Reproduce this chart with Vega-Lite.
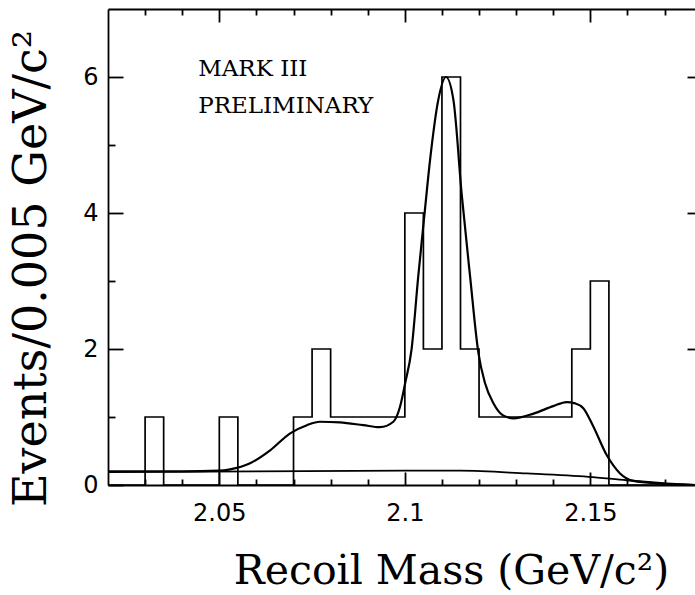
{
  "$schema": "https://vega.github.io/schema/vega-lite/v6.json",
  "width": 587,
  "height": 476,
  "autosize": {"type": "none"},
  "padding": {"left": 108, "top": 9, "right": 0, "bottom": 110},
  "background": "white",
  "config": {
    "view": {"stroke": null},
    "axis": {"grid": false, "domainColor": "#000", "tickColor": "#000", "domainWidth": 1.8, "tickWidth": 1.8, "labelColor": "#000", "titleColor": "#000", "labelOverlap": false}
  },
  "datasets": {
    "hist": [
      {"mass": 2.020, "count": 0}, {"mass": 2.025, "count": 0}, {"mass": 2.030, "count": 1}, {"mass": 2.035, "count": 0},
      {"mass": 2.040, "count": 0}, {"mass": 2.045, "count": 0}, {"mass": 2.050, "count": 1}, {"mass": 2.055, "count": 0},
      {"mass": 2.060, "count": 0}, {"mass": 2.065, "count": 0}, {"mass": 2.070, "count": 1}, {"mass": 2.075, "count": 2},
      {"mass": 2.080, "count": 1}, {"mass": 2.085, "count": 1}, {"mass": 2.090, "count": 1}, {"mass": 2.095, "count": 1},
      {"mass": 2.100, "count": 4}, {"mass": 2.105, "count": 2}, {"mass": 2.110, "count": 6}, {"mass": 2.115, "count": 2},
      {"mass": 2.120, "count": 1}, {"mass": 2.125, "count": 1}, {"mass": 2.130, "count": 1}, {"mass": 2.135, "count": 1},
      {"mass": 2.140, "count": 1}, {"mass": 2.145, "count": 2}, {"mass": 2.150, "count": 3}, {"mass": 2.155, "count": 0},
      {"mass": 2.160, "count": 0}, {"mass": 2.165, "count": 0}, {"mass": 2.170, "count": 0}, {"mass": 2.175, "count": 0}
    ],
    "fit": [
      {"mass": 2.020, "value": 0.20}, {"mass": 2.040, "value": 0.20}, {"mass": 2.050, "value": 0.21},
      {"mass": 2.0529, "value": 0.23}, {"mass": 2.0583, "value": 0.32}, {"mass": 2.0637, "value": 0.51},
      {"mass": 2.0691, "value": 0.76}, {"mass": 2.0736, "value": 0.88}, {"mass": 2.0771, "value": 0.93},
      {"mass": 2.0825, "value": 0.92}, {"mass": 2.0888, "value": 0.88}, {"mass": 2.0933, "value": 0.85},
      {"mass": 2.0969, "value": 0.93}, {"mass": 2.0987, "value": 1.15}, {"mass": 2.1001, "value": 1.50},
      {"mass": 2.1018, "value": 1.99}, {"mass": 2.1036, "value": 3.06}, {"mass": 2.1054, "value": 4.04},
      {"mass": 2.1068, "value": 4.78}, {"mass": 2.1090, "value": 5.66}, {"mass": 2.1111, "value": 6.0},
      {"mass": 2.1131, "value": 5.66}, {"mass": 2.1153, "value": 4.29}, {"mass": 2.1176, "value": 3.06},
      {"mass": 2.1198, "value": 1.95}, {"mass": 2.1216, "value": 1.50}, {"mass": 2.1239, "value": 1.20},
      {"mass": 2.1266, "value": 1.02}, {"mass": 2.1293, "value": 0.98}, {"mass": 2.1347, "value": 1.05},
      {"mass": 2.1400, "value": 1.16}, {"mass": 2.1436, "value": 1.22}, {"mass": 2.1459, "value": 1.20},
      {"mass": 2.1481, "value": 1.13}, {"mass": 2.1508, "value": 0.86}, {"mass": 2.1544, "value": 0.44},
      {"mass": 2.1580, "value": 0.17}, {"mass": 2.1616, "value": 0.06}, {"mass": 2.1688, "value": 0.02},
      {"mass": 2.1782, "value": 0.0}
    ],
    "background": [
      {"mass": 2.020, "value": 0.19}, {"mass": 2.060, "value": 0.2}, {"mass": 2.100, "value": 0.21},
      {"mass": 2.1149, "value": 0.21}, {"mass": 2.1329, "value": 0.17}, {"mass": 2.1495, "value": 0.12},
      {"mass": 2.1598, "value": 0.07}, {"mass": 2.1706, "value": 0.025}, {"mass": 2.1782, "value": 0.0}
    ],
    "notes": [
      {"mass": 2.0443, "value": 6.12, "label": "MARK III"},
      {"mass": 2.0443, "value": 5.57, "label": "PRELIMINARY"}
    ]
  },
  "layer": [
    {
      "data": {"name": "hist"},
      "mark": {"type": "line", "interpolate": "step-after", "color": "#000", "strokeWidth": 1.7},
      "encoding": {
        "x": {
          "field": "mass", "type": "quantitative",
          "scale": {"domain": [2.02, 2.1782], "nice": false, "zero": false},
          "axis": {
            "orient": "bottom",
            "values": [2.03, 2.04, 2.05, 2.06, 2.07, 2.08, 2.09, 2.1, 2.11, 2.12, 2.13, 2.14, 2.15, 2.16, 2.17],
            "format": "~g",
            "labelExpr": "indexof([2.05, 2.1, 2.15], datum.value) >= 0 ? datum.label : ''",
            "tickSize": {"condition": {"test": "indexof([2.05, 2.1, 2.15], datum.value) >= 0", "value": -13}, "value": -6},
            "labelPadding": 48, "labelBaseline": "alphabetic",
            "labelFont": "DejaVu Sans", "labelFontSize": 24,
            "title": "Recoil Mass (GeV/c²)", "titleFont": "DejaVu Serif", "titleFontSize": 41,
            "titleFontWeight": "normal", "titleX": 343, "titleY": 98, "titleBaseline": "alphabetic", "titleAlign": "center"
          }
        },
        "y": {
          "field": "count", "type": "quantitative",
          "scale": {"domain": [0, 7], "nice": false, "zero": false},
          "axis": {
            "orient": "left", "values": [0, 1, 2, 3, 4, 5, 6], "format": "~g",
            "labelExpr": "datum.value % 2 == 0 ? datum.label : ''",
            "tickSize": {"condition": {"test": "datum.value % 2 == 0", "value": -15}, "value": -7},
            "labelPadding": 25, "labelFont": "DejaVu Sans", "labelFontSize": 24,
            "title": "Events/0.005 GeV/c²", "titleFont": "DejaVu Serif", "titleFontSize": 46,
            "titleFontWeight": "normal", "titleX": -63, "titleY": 259, "titleBaseline": "alphabetic", "titleAlign": "center"
          }
        }
      }
    },
    {
      "data": {"name": "fit"},
      "mark": {"type": "line", "interpolate": "monotone", "color": "#000", "strokeWidth": 2.2},
      "encoding": {
        "x": {
          "field": "mass", "type": "quantitative",
          "scale": {"domain": [2.02, 2.1782], "nice": false, "zero": false},
          "axis": {
            "orient": "top",
            "values": [2.03, 2.04, 2.05, 2.06, 2.07, 2.08, 2.09, 2.1, 2.11, 2.12, 2.13, 2.14, 2.15, 2.16, 2.17],
            "tickSize": {"condition": {"test": "indexof([2.05, 2.1, 2.15], datum.value) >= 0", "value": -13}, "value": -6},
            "labels": false, "title": null
          }
        },
        "y": {
          "field": "value", "type": "quantitative",
          "scale": {"domain": [0, 7], "nice": false, "zero": false},
          "axis": {"orient": "right", "values": [2, 4, 6], "tickSize": -8, "labels": false, "title": null, "domain": false}
        }
      }
    },
    {
      "data": {"name": "background"},
      "mark": {"type": "line", "interpolate": "monotone", "color": "#000", "strokeWidth": 1.8},
      "encoding": {
        "x": {"field": "mass", "type": "quantitative", "scale": {"domain": [2.02, 2.1782], "nice": false, "zero": false}, "axis": null},
        "y": {"field": "value", "type": "quantitative", "scale": {"domain": [0, 7], "nice": false, "zero": false}, "axis": null}
      }
    },
    {
      "data": {"name": "notes"},
      "mark": {"type": "text", "align": "left", "baseline": "middle", "font": "DejaVu Serif", "fontSize": 23, "color": "#000"},
      "encoding": {
        "x": {"field": "mass", "type": "quantitative", "scale": {"domain": [2.02, 2.1782], "nice": false, "zero": false}, "axis": null},
        "y": {"field": "value", "type": "quantitative", "scale": {"domain": [0, 7], "nice": false, "zero": false}, "axis": null},
        "text": {"field": "label"}
      }
    }
  ],
  "resolve": {
    "scale": {"x": "independent", "y": "independent"},
    "axis": {"x": "independent", "y": "independent"}
  }
}
